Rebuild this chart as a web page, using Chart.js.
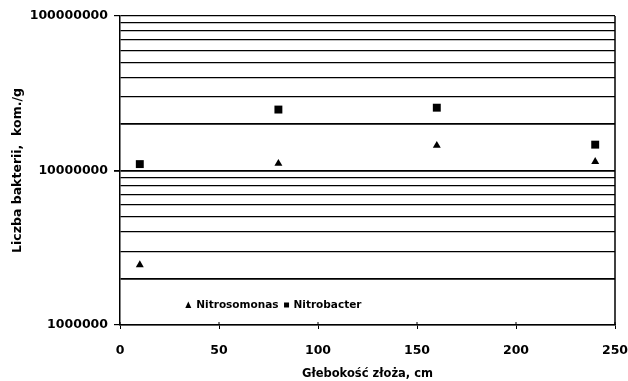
<!doctype html>
<html>
<head>
    <meta charset="utf-8">
    <title>Liczba bakterii</title>
    <script src="https://cdn.jsdelivr.net/npm/chart.js"></script>
    <style>
        html, body { margin: 0; padding: 0; background: #fff; }
        #wrap { width: 628px; height: 381px; }
    </style>
</head>
<body>
<div id="wrap"><canvas id="myChart" width="628" height="381"></canvas></div>

<script>
    // glebokosc (cm) i liczba bakterii (kom./g)
    var depth = [10, 80, 160, 240];
    var nitrosomonas = [2450000, 11100000, 14500000, 11400000];
    var nitrobacter = [11000000, 24800000, 25500000, 14700000];

    var xTicks = [0, 50, 100, 150, 200, 250];
    var yTicks = [1000000, 2000000, 3000000, 4000000, 5000000, 6000000, 7000000, 8000000, 9000000,
        10000000, 20000000, 30000000, 40000000, 50000000, 60000000, 70000000, 80000000, 90000000, 100000000];
    var yLabeled = [1000000, 10000000, 100000000];

    var FONT = "'DejaVu Sans', 'Liberation Sans', Arial, sans-serif";

    var frame = {
        id: 'frame',
        afterDraw: function (chart) {
            var ctx = chart.ctx, a = chart.chartArea, xs = chart.scales.x;
            ctx.save();
            ctx.strokeStyle = '#000';
            ctx.lineWidth = 1.5;
            ctx.beginPath();
            ctx.moveTo(a.right, a.top);
            ctx.lineTo(a.right, a.bottom);
            ctx.stroke();
            // tick marks going up into the plot
            ctx.lineWidth = 1;
            xTicks.forEach(function (v) {
                var px = xs.getPixelForValue(v);
                ctx.beginPath();
                ctx.moveTo(px, a.bottom - 3);
                ctx.lineTo(px, a.bottom);
                ctx.stroke();
            });

            // legend inside the plot
            var lx = a.left + (a.right - a.left) * 0.138;
            var ly = a.bottom - 20;
            ctx.fillStyle = '#000';
            ctx.font = 'bold 10.5px ' + FONT;
            ctx.textBaseline = 'middle';
            ctx.beginPath();
            ctx.moveTo(lx - 3, ly + 3);
            ctx.lineTo(lx + 3, ly + 3);
            ctx.lineTo(lx, ly - 3.5);
            ctx.closePath();
            ctx.fill();
            ctx.fillText(chart.data.datasets[0].label, lx + 8, ly);
            var w = ctx.measureText(chart.data.datasets[0].label).width;
            var sx = lx + 8 + w + 8;
            ctx.fillRect(sx - 2.5, ly - 2.5, 5, 5);
            ctx.fillText(chart.data.datasets[1].label, sx + 7, ly);
            ctx.restore();
        }
    };

    new Chart(document.getElementById('myChart'), {
        type: 'scatter',
        data: {
            datasets: [{
                label: 'Nitrosomonas',
                data: depth.map(function (d, i) { return {x: d, y: nitrosomonas[i]}; }),
                pointStyle: 'triangle',
                pointRadius: 4.6,
                backgroundColor: '#000',
                borderColor: '#000',
                borderWidth: 0
            }, {
                label: 'Nitrobacter',
                data: depth.map(function (d, i) { return {x: d, y: nitrobacter[i]}; }),
                pointStyle: 'rect',
                pointRadius: 5.6,
                backgroundColor: '#000',
                borderColor: '#000',
                borderWidth: 0
            }]
        },
        options: {
            responsive: false,
            animation: false,
            layout: {padding: {left: 10, top: 16, right: 13, bottom: 0}},
            plugins: {
                legend: {display: false},
                tooltip: {enabled: false}
            },
            scales: {
                x: {
                    type: 'linear',
                    min: 0,
                    max: 250,
                    afterBuildTicks: function (s) {
                        s.ticks = xTicks.map(function (v) { return {value: v}; });
                    },
                    afterFit: function (s) {
                        s.height = 56;
                        s.paddingRight = 0;
                        s.paddingLeft = 0;
                    },
                    border: {display: true, color: '#000', width: 1.5},
                    grid: {drawOnChartArea: false, drawTicks: true, tickLength: 4, color: '#000', lineWidth: 1},
                    ticks: {color: '#000', padding: 14, maxRotation: 0, font: {family: FONT, size: 12.5, weight: 'bold'}},
                    title: {
                        display: true,
                        text: 'Głebokość złoża, cm',
                        color: '#000',
                        padding: {top: 2, bottom: 0},
                        font: {family: FONT, size: 11.5, weight: 'bold'}
                    }
                },
                y: {
                    type: 'logarithmic',
                    min: 1000000,
                    max: 100000000,
                    afterBuildTicks: function (s) {
                        s.ticks = yTicks.map(function (v) { return {value: v}; });
                    },
                    afterFit: function (s) {
                        s.width = 110;
                        s.paddingTop = 0;
                        s.paddingBottom = 0;
                    },
                    border: {display: true, color: '#000', width: 1.5},
                    grid: {
                        color: '#000',
                        lineWidth: function (c) {
                            var v = c.tick ? c.tick.value : 0;
                            return (v === 2000000 || v === 10000000 || v === 20000000) ? 1.8 : 1.2;
                        },
                        drawTicks: true,
                        tickLength: 6,
                        tickColor: function (c) {
                            return yLabeled.indexOf(c.tick.value) >= 0 ? '#000' : 'rgba(0,0,0,0)';
                        }
                    },
                    ticks: {
                        color: '#000',
                        padding: 6,
                        autoSkip: false,
                        font: {family: FONT, size: 12.5, weight: 'bold'},
                        callback: function (v) {
                            return yLabeled.indexOf(v) >= 0 ? String(v) : '';
                        }
                    },
                    title: {
                        display: true,
                        text: 'Liczba bakterii,  kom./g',
                        color: '#000',
                        padding: {top: 0, bottom: 0},
                        font: {family: FONT, size: 12.5, weight: 'bold'}
                    }
                }
            }
        },
        plugins: [frame]
    });
</script>
</body>
</html>
